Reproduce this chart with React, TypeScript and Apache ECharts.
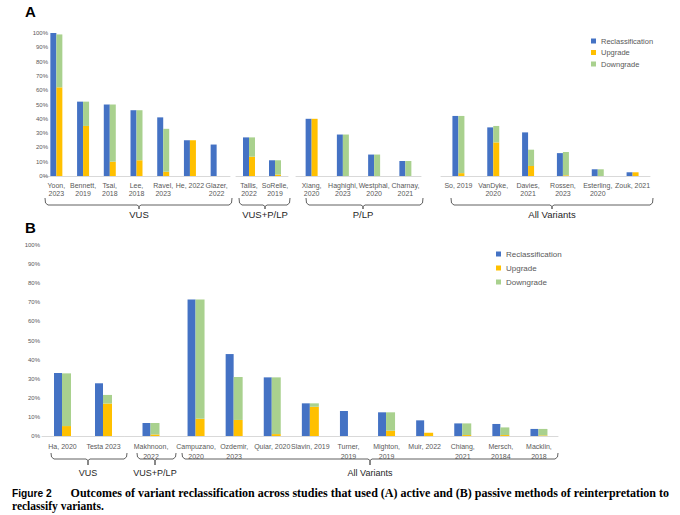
import React, { useEffect, useRef } from 'react';
import * as echarts from 'echarts';

// ---------- Panel A data ----------
const aVusCats = ['Yoon,\n2023', 'Bennett,\n2019', 'Tsai,\n2018', 'Lee,\n2018', 'Ravel,\n2023', 'He, 2022', 'Glazer,\n2022'];
const aVusReclass = [100, 52, 50, 46, 41, 25, 22];
const aVusUp = [62, 35, 10, 11, 3, 25, 0];
const aVusDown = [37, 17, 40, 35, 30, 0, 0];

const aMixCats = ['Tallis,\n2022', 'SoRelle,\n2019'];
const aMixReclass = [27, 11];
const aMixUp = [13.5, 1];
const aMixDown = [13.5, 10];

const aPlpCats = ['Xiang,\n2020', 'Haghighi,\n2023', 'Westphal,\n2020', 'Charnay,\n2021'];
const aPlpReclass = [40, 29, 15, 10.5];
const aPlpUp = [40, 0, 0, 0];
const aPlpDown = [0, 29, 15, 10.5];

const aAllCats = ['So, 2019', 'VanDyke,\n2020', 'Davies,\n2021', 'Rossen,\n2023', 'Esterling,\n2020', 'Zouk, 2021'];
const aAllReclass = [42, 34, 30.5, 16, 4.7, 2.6];
const aAllUp = [2, 23.5, 7, 0.5, 0, 2.6];
const aAllDown = [40, 11.5, 11.4, 16.3, 4.7, 0];

// ---------- Panel B data ----------
const bVusCats = ['Ha, 2020', 'Testa 2023'];
const bVusReclass = [33, 27.6];
const bVusUp = [5.2, 17];
const bVusDown = [27.6, 4.5];

const bMixCats = ['Makhnoon,\n2022'];
const bMixReclass = [6.8];
const bMixUp = [0.8];
const bMixDown = [6.0];

const bAllCats = ['Campuzano,\n2020', 'Ozdemir,\n2023', 'Quiar, 2020', 'Slavin, 2019', 'Turner,\n2019', 'Mighton,\n2019', 'Muir, 2022', 'Chiang,\n2021', 'Mersch,\n20184', 'Macklin,\n2018'];
const bAllReclass = [71.5, 42.9, 30.7, 17.1, 13.1, 12.4, 8.2, 6.6, 6.3, 3.7];
const bAllUp = [9, 8.4, 1, 15.3, 0, 2.8, 1.7, 0.5, 0.5, 0.3];
const bAllDown = [62.5, 22.5, 29.7, 1.8, 0, 9.6, 0, 6.1, 4.0, 3.4];

const seriesNames = ['Reclassification', 'Upgrade', 'Downgrade'];
const groupNamesA = ['VUS', 'VUS+P/LP', 'P/LP', 'All Variants'];
const groupNamesB = ['VUS', 'VUS+P/LP', 'All Variants'];

const BLUE = '#4472C4';
const YELLOW = '#FFC000';
const GREEN = '#A9D18E';
const GREY = '#595959';
const FONT = 'Liberation Sans';

type Group = { cats: string[]; rc: number[]; up: number[]; dn: number[] };

const groupsA: Group[] = [
  { cats: aVusCats, rc: aVusReclass, up: aVusUp, dn: aVusDown },
  { cats: aMixCats, rc: aMixReclass, up: aMixUp, dn: aMixDown },
  { cats: aPlpCats, rc: aPlpReclass, up: aPlpUp, dn: aPlpDown },
  { cats: aAllCats, rc: aAllReclass, up: aAllUp, dn: aAllDown },
];
const groupsB: Group[] = [
  { cats: bVusCats, rc: bVusReclass, up: bVusUp, dn: bVusDown },
  { cats: bMixCats, rc: bMixReclass, up: bMixUp, dn: bMixDown },
  { cats: bAllCats, rc: bAllReclass, up: bAllUp, dn: bAllDown },
];

// layout (pixels)
const gridA = [
  { left: 43, width: 187 },
  { left: 236, width: 52 },
  { left: 296, width: 125 },
  { left: 441, width: 209 },
];
const gridB = [
  { left: 42, width: 82 },
  { left: 124.5, width: 53 },
  { left: 177, width: 381 },
];
const bracketsA = [
  [45, 232, 139],
  [239, 290, 265],
  [306, 423, 363],
  [451, 653, 552],
];
const bracketsB = [
  [51, 127, 88],
  [137, 176, 155],
  [182, 558, 370],
];

function brace(x1: number, x2: number, cx: number, yT: number, yH: number, yB: number) {
  return {
    type: 'polyline',
    silent: true,
    shape: {
      points: [
        [x1, yT], [x1 + 0.5, yH - 2], [x1 + 3, yH], [cx - 2, yH], [cx, yH + 1.5], [cx, yB],
        [cx, yH + 1.5], [cx + 2, yH], [x2 - 3, yH], [x2 - 0.5, yH - 2], [x2, yT],
      ],
    },
    style: { stroke: '#606060', lineWidth: 1, fill: null },
  };
}

export default function App() {
  const ref = useRef<HTMLDivElement>(null);
  useEffect(() => {
    if (!ref.current) return;
    const chart = echarts.init(ref.current, undefined, { renderer: 'svg' });

    const grids: any[] = [];
    const xAxes: any[] = [];
    const yAxes: any[] = [];
    const series: any[] = [];

    const addPanel = (groups: Group[], layout: any[], top: number, height: number, bw: number, sw: number, labelMargin: number, lineH: number, yOffset: number, yMargin: number) => {
      groups.forEach((g, gi) => {
        const idx = grids.length;
        grids.push({ left: layout[gi].left, width: layout[gi].width, top, height, containLabel: false });
        xAxes.push({
          type: 'category',
          gridIndex: idx,
          data: g.cats,
          axisLine: { show: true, lineStyle: { color: '#d9d9d9', width: 1 } },
          axisTick: { show: false },
          axisLabel: { interval: 0, color: GREY, fontSize: 7, fontFamily: FONT, margin: labelMargin, lineHeight: lineH },
        });
        yAxes.push({
          type: 'value',
          gridIndex: idx,
          min: 0,
          max: 100,
          interval: 10,
          show: gi === 0,
          offset: yOffset,
          axisLine: { show: false },
          axisTick: { show: false },
          splitLine: { show: false },
          axisLabel: { show: gi === 0, formatter: '{value}%', color: GREY, fontSize: 6, fontFamily: FONT, margin: yMargin },
        });
        series.push({
          name: seriesNames[0], type: 'bar', xAxisIndex: idx, yAxisIndex: idx,
          data: g.rc, barWidth: bw, barGap: '0%', itemStyle: { color: BLUE },
        });
        series.push({
          name: seriesNames[1], type: 'bar', xAxisIndex: idx, yAxisIndex: idx, stack: 's' + idx,
          data: g.up, barWidth: sw, barGap: '0%', itemStyle: { color: YELLOW },
        });
        series.push({
          name: seriesNames[2], type: 'bar', xAxisIndex: idx, yAxisIndex: idx, stack: 's' + idx,
          data: g.dn, barWidth: sw, barGap: '0%', itemStyle: { color: GREEN },
        });
      });
    };

    addPanel(groupsA, gridA, 33, 143, 6, 6, 5, 8.5, -6, 1);
    addPanel(groupsB, gridB, 245, 191, 8, 9, 5, 10, 0, 2);

    const graphics: any[] = [
      { type: 'text', left: 25, top: 4, style: { text: 'A', fontSize: 15, fontWeight: 'bold', fontFamily: FONT, fill: '#000' } },
      { type: 'text', left: 25, top: 220, style: { text: 'B', fontSize: 15, fontWeight: 'bold', fontFamily: FONT, fill: '#000' } },
    ];
    bracketsA.forEach((b, i) => {
      graphics.push(brace(b[0], b[1], b[2], 198, 205, 209));
      graphics.push({ type: 'text', x: b[2], y: 214, style: { text: groupNamesA[i], fontSize: 9.5, fontFamily: FONT, fill: '#262626', align: 'center', verticalAlign: 'middle' } });
    });
    bracketsB.forEach((b, i) => {
      graphics.push(brace(b[0], b[1], b[2], 453, 459, 465));
      graphics.push({ type: 'text', x: b[2], y: 473, style: { text: groupNamesB[i], fontSize: 9, fontFamily: FONT, fill: '#262626', align: 'center', verticalAlign: 'middle' } });
    });
    graphics.push({ type: 'text', x: 12, y: 493, style: { text: 'Figure 2', fontSize: 10.2, fontWeight: 'bold', fontFamily: FONT, fill: '#000', verticalAlign: 'middle' } });
    graphics.push({ type: 'text', x: 669, y: 493, style: { text: 'Outcomes of variant reclassification across studies that used (A) active and (B) passive methods of reinterpretation to', fontSize: 12, fontWeight: 'bold', fontFamily: 'Liberation Serif', fill: '#000', align: 'right', verticalAlign: 'middle' } });
    graphics.push({ type: 'text', x: 12, y: 506, style: { text: 'reclassify variants.', fontSize: 11.5, fontWeight: 'bold', fontFamily: 'Liberation Serif', fill: '#000', verticalAlign: 'middle' } });

    chart.setOption({
      animation: false,
      backgroundColor: '#fff',
      grid: grids,
      xAxis: xAxes,
      yAxis: yAxes,
      series,
      legend: [
        {
          left: 586, top: 32, orient: 'vertical', icon: 'rect', itemWidth: 5, itemHeight: 5, itemGap: 3.5,
          data: seriesNames, selectedMode: false,
          textStyle: { color: GREY, fontSize: 7.5, fontFamily: FONT },
        },
        {
          left: 491, top: 245, orient: 'vertical', icon: 'rect', itemWidth: 5, itemHeight: 5, itemGap: 6,
          data: seriesNames, selectedMode: false,
          textStyle: { color: GREY, fontSize: 8, fontFamily: FONT },
        },
      ],
      graphic: graphics,
    });
    return () => chart.dispose();
  }, []);
  return <div ref={ref} style={{ position: 'absolute', left: 0, top: 0, width: 680, height: 515, background: '#fff' }} />;
}
